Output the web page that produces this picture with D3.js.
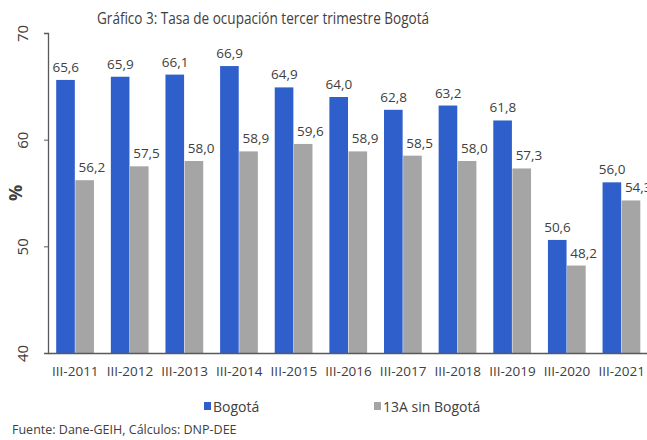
<!DOCTYPE html>
<html>
<head>
<meta charset="utf-8">
<script src="https://cdn.jsdelivr.net/npm/d3@7"></script>
<style>
  body { margin: 0; background: #fff; }
  text { font-family: "Open Sans", "Noto Sans", sans-serif; fill: #404040; }
</style>
</head>
<body>
<div id="chart"></div>
<script>
// data
var periods = ["III-2011","III-2012","III-2013","III-2014","III-2015","III-2016","III-2017","III-2018","III-2019","III-2020","III-2021"];
var bogota = [65.6, 65.9, 66.1, 66.9, 64.9, 64.0, 62.8, 63.2, 61.8, 50.6, 56.0];
var resto = [56.2, 57.5, 58.0, 58.9, 59.6, 58.9, 58.5, 58.0, 57.3, 48.2, 54.3];
var seriesNames = ["Bogotá", "13A sin Bogotá"];
var yTicks = [40, 50, 60, 70];

var width = 647, height = 440;
var margin = {top: 33, left: 48, bottom: 87};
var colors = ["#2F5FCB", "#A5A5A5"];

var svg = d3.select("#chart").append("svg")
  .attr("width", width)
  .attr("height", height);

var x = d3.scaleBand()
  .domain(periods)
  .range([margin.left, 649])
  .paddingInner(0.3)
  .paddingOuter(0.15);

var x1 = d3.scaleBand()
  .domain(seriesNames)
  .range([0, x.bandwidth()]);

var y = d3.scaleLinear()
  .domain([40, 70])
  .range([height - margin.bottom, margin.top]);

var fmt = function(v) { return d3.format(".1f")(v).replace(".", ","); };

// title
svg.append("text")
  .attr("x", 263)
  .attr("y", 24)
  .attr("text-anchor", "middle")
  .style("font-size", "17px")
  .attr("textLength", 332)
  .attr("lengthAdjust", "spacingAndGlyphs")
  .text("Gráfico 3: Tasa de ocupación tercer trimestre Bogotá");

// bars
var rows = periods.map(function(p, i) {
  return {period: p, values: [
    {name: seriesNames[0], value: bogota[i]},
    {name: seriesNames[1], value: resto[i]}
  ]};
});

var groups = svg.selectAll("g.grp")
  .data(rows)
  .enter()
  .append("g")
    .attr("class", "grp")
    .attr("transform", function(d) { return "translate(" + x(d.period) + ",0)"; });

groups.selectAll("rect")
  .data(function(d) { return d.values; })
  .enter()
  .append("rect")
    .attr("x", function(d) { return x1(d.name); })
    .attr("y", function(d) { return y(d.value); })
    .attr("width", x1.bandwidth() - 0.5)
    .attr("height", function(d) { return y(40) - y(d.value); })
    .attr("fill", function(d, i) { return colors[i]; });

groups.selectAll("text.lbl")
  .data(function(d) { return d.values; })
  .enter()
  .append("text")
    .attr("class", "lbl")
    .attr("x", function(d, i) { return x1(d.name) + x1.bandwidth() / 2 + (i == 1 ? 7 : 0); })
    .attr("y", function(d) { return y(d.value) - 8; })
    .attr("text-anchor", "middle")
    .style("font-size", "13.5px")
    .text(function(d) { return fmt(d.value); });

// y axis
var yAxis = svg.append("g")
  .attr("transform", "translate(" + margin.left + ",0)")
  .call(d3.axisLeft(y).tickValues(yTicks).tickSize(4).tickFormat(d3.format("d")));
yAxis.select(".domain").attr("stroke", "#595959").attr("stroke-width", 1.3);
yAxis.selectAll(".tick line").attr("stroke", "#595959");
yAxis.selectAll(".tick text")
  .attr("x", 0).attr("y", 0).attr("dy", null)
  .attr("transform", "translate(-26,0) rotate(-90)")
  .attr("text-anchor", "middle")
  .attr("dominant-baseline", "central")
  .style("font-size", "15px")
  .style("fill", "#404040");

svg.append("text")
  .attr("transform", "translate(15," + y(55) + ") rotate(-90)")
  .attr("text-anchor", "middle")
  .attr("dominant-baseline", "central")
  .style("font-size", "18px")
  .style("font-weight", "bold")
  .style("fill", "#404040")
  .text("%");

// x axis
var xAxis = svg.append("g")
  .attr("transform", "translate(0," + y(40) + ")")
  .call(d3.axisBottom(x).tickSize(0).tickPadding(13));
xAxis.select(".domain").attr("stroke", "#595959").attr("stroke-width", 1.3);
xAxis.selectAll(".tick text")
  .style("font-size", "13.5px")
  .style("fill", "#404040");

// legend
var legend = svg.selectAll("g.leg")
  .data(seriesNames)
  .enter()
  .append("g")
    .attr("class", "leg")
    .attr("transform", function(d, i) { return "translate(" + [204, 374][i] + ",406)"; });
legend.append("rect")
  .attr("x", 0).attr("y", -4)
  .attr("width", 7).attr("height", 8)
  .attr("fill", function(d, i) { return colors[i]; });
legend.append("text")
  .attr("x", 9)
  .attr("dominant-baseline", "central")
  .style("font-size", "14px")
  .text(function(d) { return d; });

// source
svg.append("text")
  .attr("x", 12)
  .attr("y", 434)
  .style("font-size", "12.5px")
  .text("Fuente: Dane-GEIH, Cálculos: DNP-DEE");
</script>
</body>
</html>
